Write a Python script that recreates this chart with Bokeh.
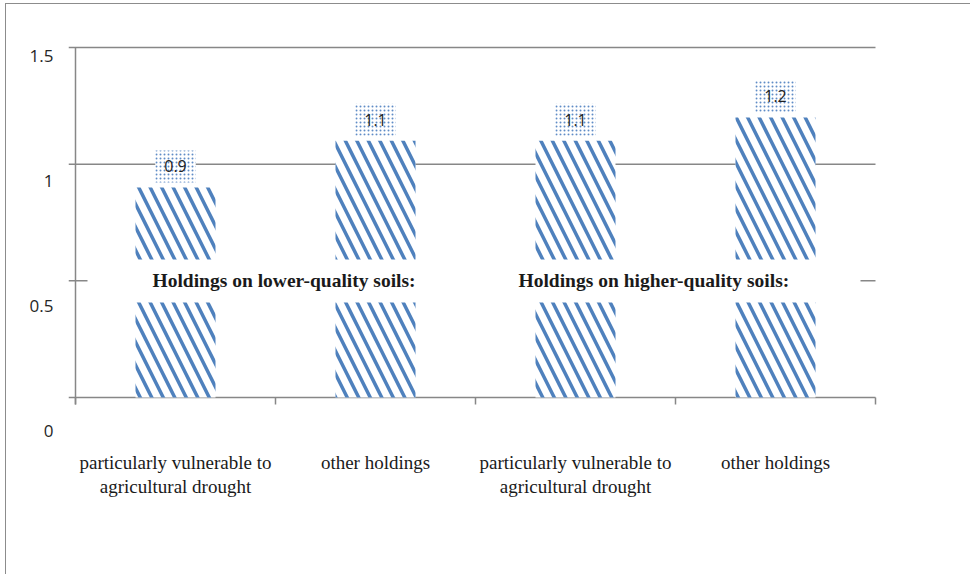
from bokeh.plotting import figure
from bokeh.models import (Range1d, LinearAxis, FixedTicker, NumeralTickFormatter,
                          BoxAnnotation, Label)
from bokeh.embed import file_html
from bokeh.resources import INLINE
from bokeh.core.properties import value

# ---- data ----
categories = ["particularly vulnerable to\nagricultural drought", "other holdings",
              "particularly vulnerable to\nagricultural drought", "other holdings"]
values = [0.9, 1.1, 1.1, 1.2]
value_labels = ["0.9", "1.1", "1.1", "1.2"]
groups = ["Holdings on lower-quality soils:", "Holdings on higher-quality soils:"]
y_ticks = [0, 0.5, 1, 1.5]

n = len(categories)
positions = [i + 0.5 for i in range(n)]
boundaries = list(range(n + 1))

GRID = "#878787"
BLUE = "#4F81BD"
TICK_X = 0.035
TICK_Y = 0.03

p = figure(width=965, height=571, output_backend="svg", toolbar_location=None,
           x_range=Range1d(-0.035, 4.025), y_range=Range1d(-0.1843, 1.53),
           y_axis_location=None, min_border_left=62, min_border_right=91,
           min_border_top=36, min_border_bottom=135, outline_line_color=None,
           background_fill_color="white", border_fill_color="white")
p.styles = {"border-left": "1px solid #8c8c8c", "border-top": "1px solid #8c8c8c",
            "margin-left": "5px", "margin-top": "3px"}
p.xgrid.visible = False
p.ygrid.visible = False

# gridlines (with their left ticks)
p.segment(x0=-TICK_X, y0=y_ticks[1:], x1=n, y1=y_ticks[1:], line_color=GRID, line_width=1.5)
# y axis line
p.segment(x0=0, y0=-TICK_Y, x1=0, y1=max(y_ticks), line_color=GRID, line_width=1.5)
# x axis line + ticks
p.segment(x0=-TICK_X, y0=0, x1=n, y1=0, line_color=GRID, line_width=1.5)
p.segment(x0=boundaries, y0=0, x1=boundaries, y1=-TICK_Y, line_color=GRID, line_width=1.5)

# bars
p.vbar(x=positions, top=values, bottom=0, width=0.4, fill_color="white", line_color=None,
       hatch_pattern="left_diagonal_line", hatch_color=BLUE, hatch_weight=3.5, hatch_scale=23)

# value labels
p.text(x=positions, y=values, text=value_labels, y_offset=-21,
       text_align="center", text_baseline="middle", text_font=value("Open Sans"),
       text_font_size="16px", text_color="#222222",
       background_fill_color="white", background_hatch_pattern="dot",
       background_hatch_color="#5F8CC6", background_hatch_scale=4,
       background_hatch_weight=1.8, padding=dict(left=9, right=9, top=10, bottom=10))

# white strip with the group labels
p.add_layout(BoxAnnotation(left=0.06, right=3.925, bottom=0.407, top=0.591,
                           fill_color="white", fill_alpha=1.0, line_color=None))
for gx, g in zip([0.385, 2.215], groups):
    p.add_layout(Label(x=gx, y=0.5, text=g, text_font="Liberation Serif",
                       text_font_style="bold", text_font_size="19.5px",
                       text_baseline="middle", text_align="left", text_color="#1a1a1a"))

# category axis (bottom)
xax = p.xaxis[0]
xax.ticker = FixedTicker(ticks=positions)
xax.major_label_overrides = {pos: c for pos, c in zip(positions, categories)}
xax.axis_line_color = None
xax.major_tick_line_color = None
xax.minor_tick_line_color = None
xax.major_label_standoff = 5
xax.major_label_text_font = "Liberation Serif"
xax.major_label_text_font_size = "19px"
xax.major_label_text_color = "#1a1a1a"
xax.major_label_text_line_height = 1.15

# y tick labels (left)
p.extra_y_ranges = {"lab": Range1d(-0.04, 1.56)}
yax = LinearAxis(y_range_name="lab", ticker=FixedTicker(ticks=y_ticks),
                 formatter=NumeralTickFormatter(format="0.[0]"),
                 axis_line_color=None, major_tick_line_color=None,
                 minor_tick_line_color=None, major_label_standoff=9,
                 major_label_text_font="Open Sans", major_label_text_font_size="17px",
                 major_label_text_color="#262626")
p.add_layout(yax, "left")

open("out.html", "w").write(file_html(p, INLINE))
